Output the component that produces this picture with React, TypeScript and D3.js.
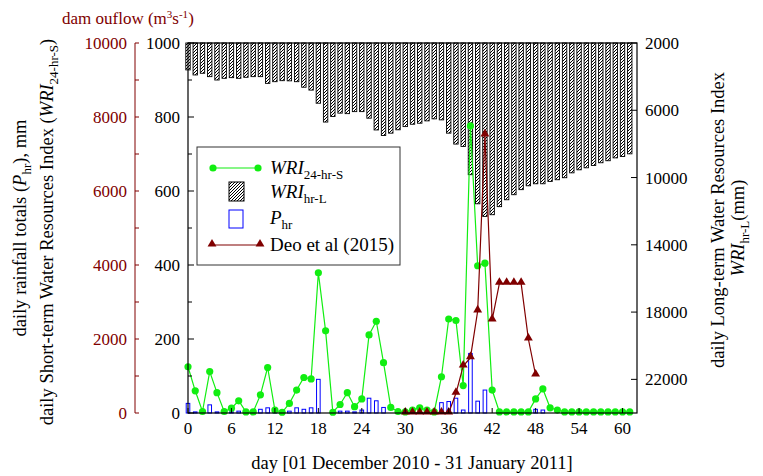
import React, { useEffect, useRef } from 'react'
import * as d3 from 'd3'

// daily values, 01 Dec 2010 - 31 Jan 2011 (day 0..61)
const wriShort = [
	125, 60, 4, 112, 55, 4, 13, 33, 3, 3,
	49, 123, 8, 2, 26, 62, 96, 92, 379, 222,
	2, 23, 55, 17, 38, 211, 248, 136, 15, 4,
	3, 8, 14, 8, 3, 98, 254, 250, 74, 776,
	398, 405, 62, 3, 3, 3, 3, 3, 38, 65,
	14, 8, 3, 3, 3, 3, 3, 3, 3, 3, 3, 3
]
const wriLong = [
	3600, 3900, 3800, 4000, 4200, 4100, 4060, 4100, 4040, 4000,
	4000, 4400, 4300, 4240, 4250, 4300, 4630, 4800, 5580, 6700,
	6370, 6170, 6200, 6080, 6080, 6470, 7170, 7500, 7360, 7160,
	6970, 6830, 6770, 6630, 6510, 6570, 7360, 8010, 8150, 9830,
	11560, 12310, 12210, 11730, 11320, 11020, 10720, 10490, 10370, 10370,
	10230, 10130, 10010, 9720, 9540, 9420, 9280, 9120, 9000, 8830, 8750, 8590
]
const rain = [
	26, 3, 0, 22, 3, 2, 3, 5, 2, 0,
	10, 14, 3, 0, 5, 14, 10, 14, 91, 0,
	0, 5, 5, 3, 8, 40, 33, 15, 0, 0,
	0, 0, 0, 0, 0, 28, 31, 40, 8, 161,
	32, 62, 0, 0, 0, 0, 0, 0, 10, 8,
	0, 0, 0, 0, 0, 0, 0, 0, 0, 0, 0, 0
]
// Deo et al (2015) dam outflow, days 30..48
const deoStart = 30
const deo = [0, 0, 0, 0, 0, 0, 0, 532, 1270, 1495, 2757, 7514, 2514, 3505, 3505, 3505, 3505, 2000, 1027]

const xTicks = [0, 6, 12, 18, 24, 30, 36, 42, 48, 54, 60]
const leftTicks = [0, 200, 400, 600, 800, 1000]
const outflowTicks = [0, 2000, 4000, 6000, 8000, 10000]
const rightTicks = [2000, 6000, 10000, 14000, 18000, 22000]

const GREEN = '#11ee11'
const RED = '#800000'
const BLUE = '#0000ff'
const FONT = 'Liberation Serif'

export default function App() {
	const ref = useRef<SVGGElement>(null)

	useEffect(() => {
		const svg = d3.select(ref.current)
		svg.selectAll('*').remove()

		const left = 188, right = 637, top = 43, bottom = 413

		const x = d3.scaleLinear().domain([0, 62]).range([left, right])
		const yS = d3.scaleLinear().domain([0, 1000]).range([bottom, top])
		const yQ = d3.scaleLinear().domain([0, 10000]).range([bottom, top])
		const yL = d3.scaleLinear().domain([2000, 24000]).range([top, bottom])

		// long-term index bars, hanging from the top
		const bw = 4.4
		svg.append('g')
			.selectAll('rect')
			.data(wriLong)
			.enter()
			.append('rect')
				.attr('x', (d, i) => x(i) - bw / 2)
				.attr('y', top)
				.attr('width', bw)
				.attr('height', d => yL(d) - top)
				.attr('fill', 'url(#hatch)')
				.attr('stroke', '#000')
				.attr('stroke-width', 0.9)

		// rainfall bars
		const rw = 3.6
		svg.append('g')
			.selectAll('rect')
			.data(rain.map((v, i) => ({ v, i })).filter(d => d.v > 0))
			.enter()
			.append('rect')
				.attr('x', d => x(d.i) - rw / 2)
				.attr('y', d => yS(d.v))
				.attr('width', rw)
				.attr('height', d => bottom - yS(d.v))
				.attr('fill', 'none')
				.attr('stroke', BLUE)
				.attr('stroke-width', 1)

		// short-term index
		const lineS = d3.line<number>().x((d, i) => x(i)).y(d => yS(d))
		svg.append('path')
			.attr('d', lineS(wriShort))
			.attr('fill', 'none')
			.attr('stroke', GREEN)
			.attr('stroke-width', 1.2)
		svg.append('g')
			.selectAll('circle')
			.data(wriShort)
			.enter()
			.append('circle')
				.attr('cx', (d, i) => x(i))
				.attr('cy', d => yS(d))
				.attr('r', 3.6)
				.attr('fill', GREEN)

		// Deo et al
		const lineD = d3.line<number>().x((d, i) => x(i + deoStart)).y(d => yQ(d))
		svg.append('path')
			.attr('d', lineD(deo))
			.attr('fill', 'none')
			.attr('stroke', RED)
			.attr('stroke-width', 1.2)
		const tri = d3.symbol().type(d3.symbolTriangle).size(34)
		svg.append('g')
			.selectAll('path')
			.data(deo)
			.enter()
			.append('path')
				.attr('d', tri)
				.attr('transform', (d, i) => `translate(${x(i + deoStart)}, ${yQ(d) - 1})`)
				.attr('fill', RED)

		// frame
		svg.append('rect')
			.attr('x', left).attr('y', top)
			.attr('width', right - left).attr('height', bottom - top)
			.attr('fill', 'none').attr('stroke', '#000').attr('stroke-width', 1.2)

		// bottom axis
		const gx = svg.append('g').attr('font-family', FONT).attr('font-size', 17)
		xTicks.forEach(t => {
			gx.append('line').attr('x1', x(t)).attr('x2', x(t)).attr('y1', bottom).attr('y2', bottom - 5).attr('stroke', '#000')
			gx.append('text').attr('x', x(t)).attr('y', 434).attr('text-anchor', 'middle').text(t)
		})

		// inner left axis
		const gl = svg.append('g').attr('font-family', FONT).attr('font-size', 17)
		d3.range(0, 1001, 100).forEach(t => {
			gl.append('line').attr('x1', left).attr('x2', left + (t % 200 === 0 ? 6 : 4)).attr('y1', yS(t)).attr('y2', yS(t)).attr('stroke', '#000')
		})
		leftTicks.forEach(t => {
			gl.append('text').attr('x', 180).attr('y', yS(t) + 6).attr('text-anchor', 'end').text(t)
		})

		// outer left axis (dam outflow)
		const go = svg.append('g').attr('font-family', FONT).attr('font-size', 17).attr('fill', RED)
		go.append('line').attr('x1', 135).attr('x2', 135).attr('y1', top).attr('y2', bottom).attr('stroke', RED)
		d3.range(0, 10001, 1000).forEach(t => {
			go.append('line').attr('x1', 135).attr('x2', 139).attr('y1', yQ(t)).attr('y2', yQ(t)).attr('stroke', RED)
		})
		outflowTicks.forEach(t => {
			go.append('text').attr('x', 127).attr('y', yQ(t) + 6).attr('text-anchor', 'end').text(t)
		})

		// right axis
		const gr = svg.append('g').attr('font-family', FONT).attr('font-size', 17)
		rightTicks.forEach(t => {
			gr.append('line').attr('x1', right).attr('x2', right - 6).attr('y1', yL(t)).attr('y2', yL(t)).attr('stroke', '#000')
			gr.append('text').attr('x', 645).attr('y', yL(t) + 6).text(t)
		})
	}, [])

	const sub = { fontSize: 13 }
	const triPath = d3.symbol().type(d3.symbolTriangle).size(34)() || ''

	return (
		<svg width={763} height={476} style={{ position: 'absolute', left: 0, top: 0, fontFamily: FONT }}>
			<defs>
				<pattern id="hatch" patternUnits="userSpaceOnUse" width={3} height={3}>
					<rect width={3} height={3} fill="#fff" />
					<path d="M-1,1 l2,-2 M0,3 l3,-3 M2,4 l2,-2" stroke="#000" strokeWidth={1} />
				</pattern>
			</defs>
			<g ref={ref} />

			{/* axis titles */}
			<text x={62} y={24} fill={RED} fontSize={17}>
				dam ouflow (m<tspan fontSize={11} dy={-6}>3</tspan><tspan dy={6}>s</tspan><tspan fontSize={11} dy={-6}>-1</tspan><tspan dy={6}>)</tspan>
			</text>
			<text transform="translate(26,228) rotate(-90)" textAnchor="middle" fontSize={18.5}>
				daily rainfall totals (<tspan fontStyle="italic">P</tspan><tspan style={sub} dy={5}>hr</tspan><tspan dy={-5}>), mm</tspan>
			</text>
			<text transform="translate(53,232) rotate(-90)" textAnchor="middle" fontSize={18.5}>
				daily Short-term Water Resources Index (<tspan fontStyle="italic">WRI</tspan><tspan style={sub} dy={5}>24-hr-S</tspan><tspan dy={-5}>)</tspan>
			</text>
			<text transform="translate(724,220) rotate(-90)" textAnchor="middle" fontSize={18.5}>
				daily Long-term Water Resources Index
			</text>
			<text transform="translate(744,228) rotate(-90)" textAnchor="middle" fontSize={18.5}>
				<tspan fontStyle="italic">WRI</tspan><tspan style={sub} dy={5}>hr-L</tspan><tspan dy={-5}>(mm)</tspan>
			</text>
			<text x={412} y={469} textAnchor="middle" fontSize={18.5}>day [01 December 2010 - 31 January 2011]</text>

			{/* legend */}
			<rect x={197} y={147} width={203} height={118} fill="#fff" stroke="#333" strokeWidth={1} />
			<line x1={213} x2={258} y1={168} y2={168} stroke={GREEN} strokeWidth={1.2} />
			<circle cx={213} cy={168} r={3.6} fill={GREEN} />
			<circle cx={258} cy={168} r={3.6} fill={GREEN} />
			<text x={270} y={174} fontSize={19}><tspan fontStyle="italic">WRI</tspan><tspan fontSize={13} dy={5}>24-hr-S</tspan></text>
			<rect x={229} y={182} width={15} height={19} fill="url(#hatch)" stroke="#000" strokeWidth={1} />
			<text x={270} y={198} fontSize={19}><tspan fontStyle="italic">WRI</tspan><tspan fontSize={13} dy={5}>hr-L</tspan></text>
			<rect x={229} y={210} width={14} height={18} fill="none" stroke={BLUE} strokeWidth={1} />
			<text x={270} y={224} fontSize={19}><tspan fontStyle="italic">P</tspan><tspan fontSize={13} dy={5}>hr</tspan></text>
			<line x1={212} x2={260} y1={245} y2={245} stroke={RED} strokeWidth={1.2} />
			<path d={triPath} transform="translate(212,244)" fill={RED} />
			<path d={triPath} transform="translate(260,244)" fill={RED} />
			<text x={270} y={251} fontSize={19}>Deo et al (2015)</text>
		</svg>
	)
}
